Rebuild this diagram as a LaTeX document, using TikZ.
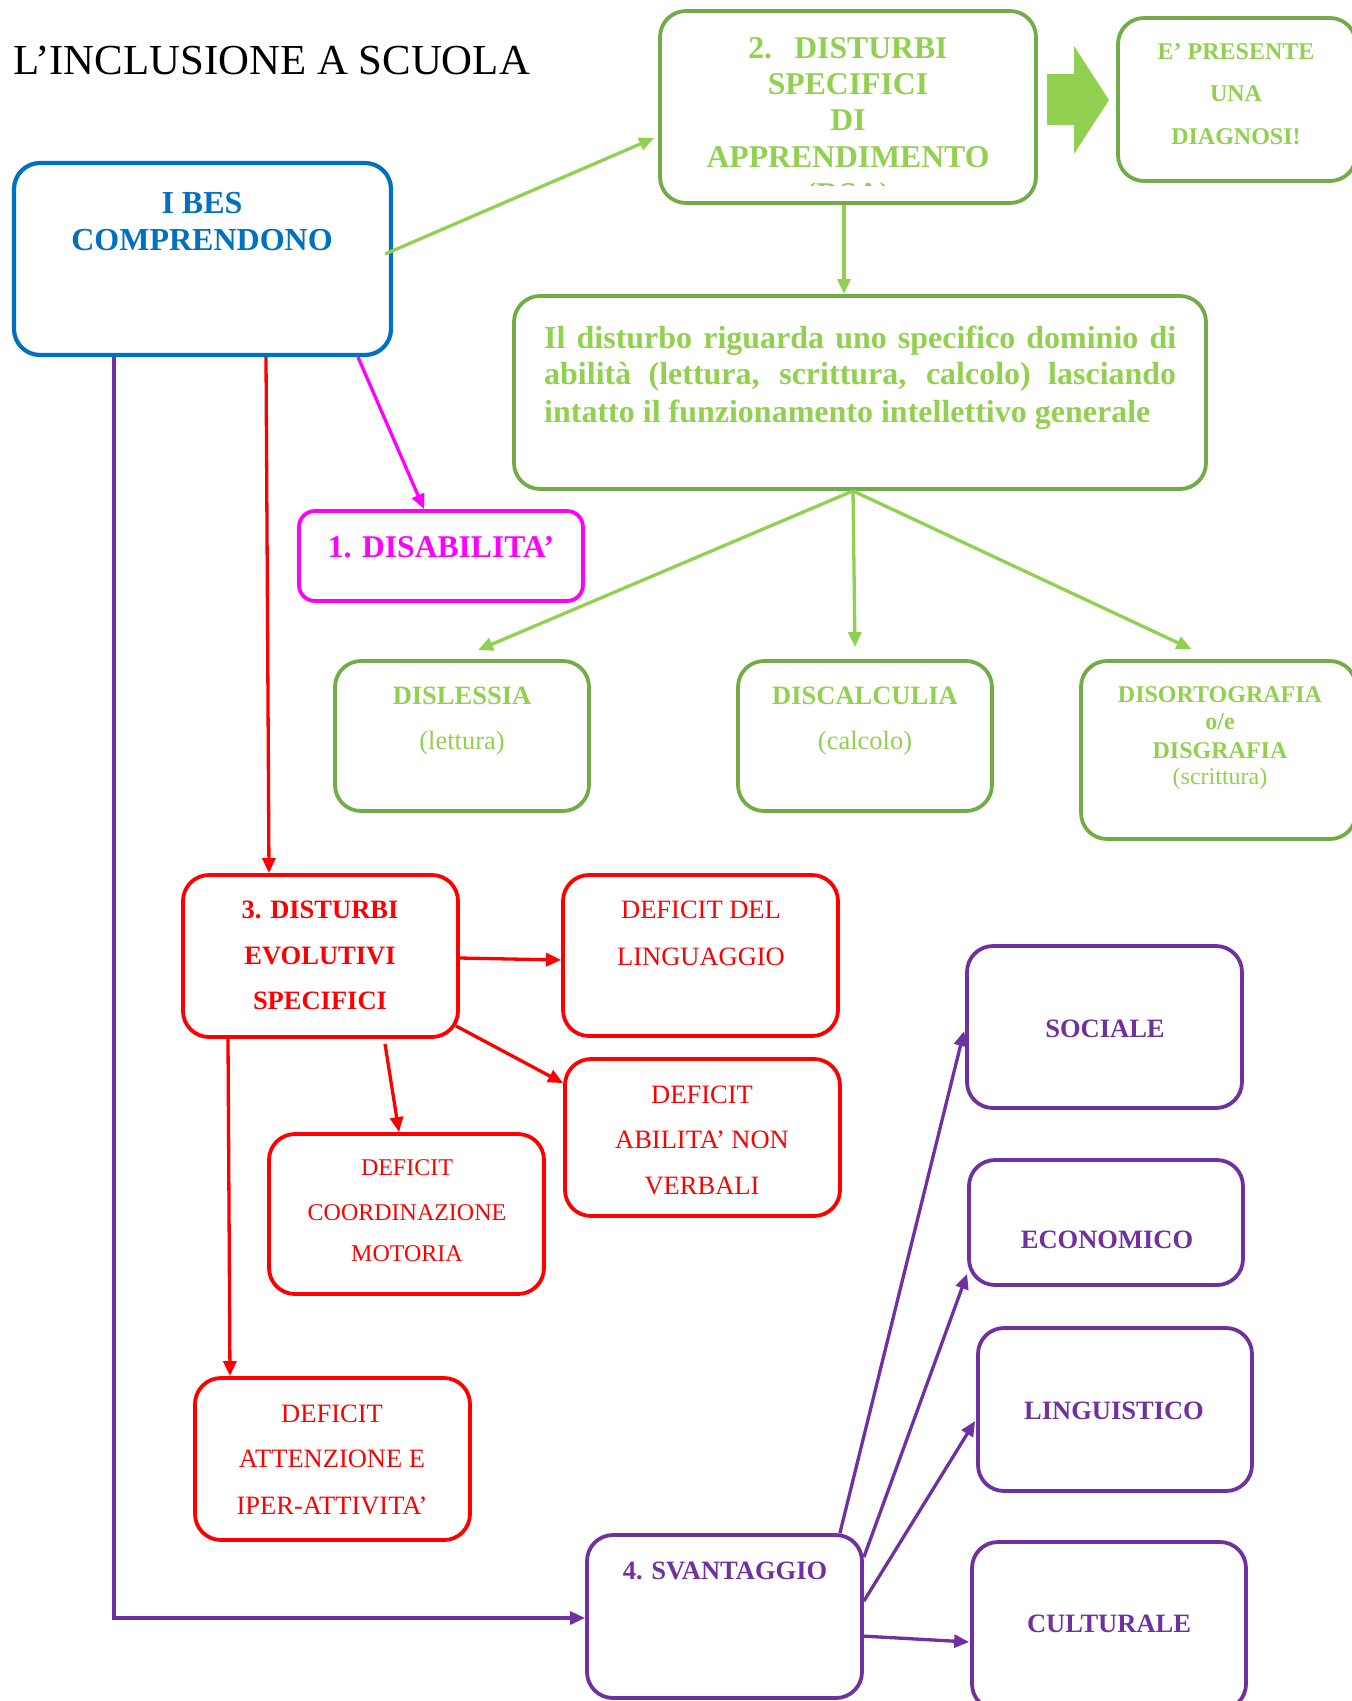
\documentclass[tikz,border=0pt]{standalone}
\usepackage{fontspec}
\setmainfont{Liberation Serif}
\usetikzlibrary{arrows.meta,calc}
\definecolor{gtext}{HTML}{92D050}
\definecolor{gline}{HTML}{70AD47}
\definecolor{bblue}{HTML}{0070C0}
\definecolor{mmag}{HTML}{FF00FF}
\definecolor{rred}{HTML}{FF0000}
\definecolor{ppur}{HTML}{7030A0}
\newcommand\fsz[1]{\fontsize{#1}{#1}\selectfont}
\tikzset{
  bx/.style={draw, line width=3.8pt, rounded corners=26pt, fill=white, inner sep=0pt},
  tx/.style={anchor=base, inner sep=0pt},
  conn/.style={line width=3.3pt, -{Triangle[length=15pt,width=13pt]}},
  gconn/.style={conn, gtext},
}
\begin{document}
\begin{tikzpicture}[x=1pt,y=-1pt]
\useasboundingbox (0,0) rectangle (1352,1701);
\clip (0,0) rectangle (1352,1701);

% title
\node[anchor=base west, inner sep=0pt, font=\fsz{42.8}] (title) at (13,74) {L’INCLUSIONE A SCUOLA};

% boxes
\node[bx, draw=bblue, line width=4.2pt, minimum width=377pt, minimum height=192pt] (bes) at (202.5,259) {};
\node[bx, draw=gline, minimum width=376pt, minimum height=192pt] (dsa) at (848,107) {};
\node[bx, draw=gline, minimum width=238pt, minimum height=163pt] (diag) at (1237,99.5) {};
\node[bx, draw=gline, minimum width=692pt, minimum height=193pt] (desc) at (860,392.5) {};
\node[bx, draw=mmag, rounded corners=16pt, minimum width=284pt, minimum height=90pt] (disab) at (441,556) {};
\node[bx, draw=gline, minimum width=254pt, minimum height=150pt] (disl) at (462,736) {};
\node[bx, draw=gline, minimum width=254pt, minimum height=150pt] (discal) at (865,736) {};
\node[bx, draw=gline, minimum width=275pt, minimum height=178pt] (disort) at (1218.5,750) {};
\node[bx, draw=rred, minimum width=275pt, minimum height=162pt] (dev) at (320.5,956) {};
\node[bx, draw=rred, minimum width=275pt, minimum height=161pt] (ling) at (700.5,955.5) {};
\node[bx, draw=rred, minimum width=275pt, minimum height=157pt] (nonverb) at (702.5,1137.5) {};
\node[bx, draw=rred, minimum width=275pt, minimum height=160pt] (coord) at (406.5,1214) {};
\node[bx, draw=rred, minimum width=275pt, minimum height=162pt] (adhd) at (332.5,1459) {};
\node[bx, draw=ppur, minimum width=275pt, minimum height=163pt] (svant) at (724.5,1616.5) {};
\node[bx, draw=ppur, minimum width=275pt, minimum height=162pt] (soc) at (1104.5,1027) {};
\node[bx, draw=ppur, minimum width=274pt, minimum height=125pt] (eco) at (1106,1222.5) {};
\node[bx, draw=ppur, minimum width=274pt, minimum height=163pt] (lingu) at (1115,1409.5) {};
\node[bx, draw=ppur, minimum width=274pt, minimum height=168pt] (cult) at (1109,1626) {};

% big block arrow
\fill[gtext] (1047,74) -- (1074,74) -- (1074,46) -- (1109,100) -- (1074,154) -- (1074,125) -- (1047,125) -- cycle;

% texts
\begin{scope}[every node/.style={tx}]
\node[text=bblue, font=\bfseries\fsz{32}] (t1a) at (202,213) {I BES};
\node[text=bblue, font=\bfseries\fsz{32}] (t1b) at (202,250) {COMPRENDONO};

\node[text=gtext, font=\bfseries\fsz{31.7}] (t2a) at (848,58.5) {2.\hspace{0.7em}DISTURBI};
\node[text=gtext, font=\bfseries\fsz{31.7}] (t2b) at (848,94.5) {SPECIFICI};
\node[text=gtext, font=\bfseries\fsz{31.7}] (t2c) at (848,130.5) {DI};
\node[text=gtext, font=\bfseries\fsz{31.7}] (t2d) at (848,167.5) {APPRENDIMENTO};

\node[text=gtext, font=\bfseries\fsz{24}] (tda) at (1236,59) {E’ PRESENTE};
\node[text=gtext, font=\bfseries\fsz{24}] (tdb) at (1236,101) {UNA};
\node[text=gtext, font=\bfseries\fsz{24}] (tdc) at (1236,144) {DIAGNOSI!};

\node[anchor=base west, text=gtext, font=\bfseries\fsz{32}] (tea) at (544,348) {\makebox[632pt][s]{Il disturbo riguarda uno specifico dominio di}};
\node[anchor=base west, text=gtext, font=\bfseries\fsz{32}] (teb) at (544,384) {\makebox[632pt][s]{abilità (lettura, scrittura, calcolo) lasciando}};
\node[anchor=base west, text=gtext, font=\bfseries\fsz{32}] (tec) at (544,422) {intatto il funzionamento intellettivo generale};

\node[text=mmag, font=\bfseries\fsz{31.6}] (tdis) at (441,557.5) {1. DISABILITA’};

\node[text=gtext, font=\bfseries\fsz{26.5}] (tla) at (462,704) {DISLESSIA};
\node[text=gtext, font=\fsz{26.5}] (tlb) at (462,749) {(lettura)};
\node[text=gtext, font=\bfseries\fsz{26.5}] (tca) at (865,704) {DISCALCULIA};
\node[text=gtext, font=\fsz{26.5}] (tcb) at (865,749) {(calcolo)};
\node[text=gtext, font=\bfseries\fsz{24}] (toa) at (1220,702) {DISORTOGRAFIA};
\node[text=gtext, font=\bfseries\fsz{24}] (tob) at (1220,729) {o/e};
\node[text=gtext, font=\bfseries\fsz{24}] (toc) at (1220,758) {DISGRAFIA};
\node[text=gtext, font=\fsz{24}] (tod) at (1220,784) {(scrittura)};

\node[text=rred, font=\bfseries\fsz{26.5}] (t3a) at (320,918) {3. DISTURBI};
\node[text=rred, font=\bfseries\fsz{26.5}] (t3b) at (320,964) {EVOLUTIVI};
\node[text=rred, font=\bfseries\fsz{26.5}] (t3c) at (320,1009) {SPECIFICI};

\node[text=rred, font=\fsz{26.5}] (tga) at (701,918) {DEFICIT DEL};
\node[text=rred, font=\fsz{26.5}] (tgb) at (701,965) {LINGUAGGIO};

\node[text=rred, font=\fsz{26.5}] (tna) at (702,1103) {DEFICIT};
\node[text=rred, font=\fsz{26.5}] (tnb) at (702,1148) {ABILITA’ NON};
\node[text=rred, font=\fsz{26.5}] (tnc) at (702,1194) {VERBALI};

\node[text=rred, font=\fsz{24}] (tma) at (407,1175) {DEFICIT};
\node[text=rred, font=\fsz{24}] (tmb) at (407,1220) {COORDINAZIONE};
\node[text=rred, font=\fsz{24}] (tmc) at (407,1261) {MOTORIA};

\node[text=rred, font=\fsz{26.5}] (taa) at (332,1422) {DEFICIT};
\node[text=rred, font=\fsz{26.5}] (tab) at (332,1467) {ATTENZIONE E};
\node[text=rred, font=\fsz{26.5}] (tac) at (332,1514) {IPER-ATTIVITA’};

\node[text=ppur, font=\bfseries\fsz{26.5}] (tsv) at (725,1579) {4. SVANTAGGIO};
\node[text=ppur, font=\bfseries\fsz{26.5}] (tso) at (1105,1037) {SOCIALE};
\node[text=ppur, font=\bfseries\fsz{26.5}] (tec2) at (1107,1248) {ECONOMICO};
\node[text=ppur, font=\bfseries\fsz{26.5}] (tli) at (1114,1419) {LINGUISTICO};
\node[text=ppur, font=\bfseries\fsz{26.5}] (tcu) at (1109,1632) {CULTURALE};
\end{scope}

% clipped remnant under APPRENDIMENTO
\begin{scope}
\clip (700,150) rectangle (1000,185.5);
\node[tx, text=gtext, font=\bfseries\fsz{31.7}] (t2e) at (848,204) {(DSA)};
\end{scope}

% connectors
\draw[gconn] ($(bes.east)+(-8,-5)$) -- ($(dsa.west)+(-4,31)$);
\draw[gconn] ($(dsa.south)+(-4,0)$) -- ($(desc.north)+(-16,0)$);
\draw[gconn] ($(desc.south)+(-7,0)$) -- ($(disl.north)+(16,-9)$);
\draw[gconn] ($(desc.south)+(-7,0)$) -- ($(discal.north)+(-10,-12)$);
\draw[gconn] ($(desc.south)+(-7,0)$) -- ($(disort.north)+(-27,-10)$);
\draw[conn, mmag] ($(bes.south)+(155.5,0)$) -- ($(disab.north)+(-17,0)$);
\draw[conn, rred] ($(bes.south)+(63.5,0)$) -- ($(dev.north)+(-51.5,0)$);
\draw[conn, ppur] ($(bes.south)+(-88.5,0)$) |- ($(svant.west)+(0,1.5)$);
\draw[conn, rred] ($(dev.east)+(0,2)$) -- ($(ling.west)+(0,4.5)$);
\draw[conn, rred] ($(dev.south east)+(-4,-13)$) -- ($(nonverb.north west)+(0,26)$);
\draw[conn, rred] ($(dev.south)+(64.5,5)$) -- ($(coord.north)+(-7.5,0)$);
\draw[conn, rred] ($(dev.south)+(-92.5,0)$) -- ($(adhd.north)+(-102.5,0)$);
\draw[conn, ppur] ($(svant.north east)+(-24,0)$) -- ($(soc.west)+(-1,4)$);
\draw[conn, ppur] ($(svant.north east)+(0,24)$) -- ($(eco.south west)+(0,-13)$);
\draw[conn, ppur] ($(svant.north east)+(0,68)$) -- ($(lingu.west)+(-1,11.5)$);
\draw[conn, ppur] ($(svant.north east)+(0,103)$) -- ($(cult.west)+(-1,16)$);
\end{tikzpicture}
\end{document}
